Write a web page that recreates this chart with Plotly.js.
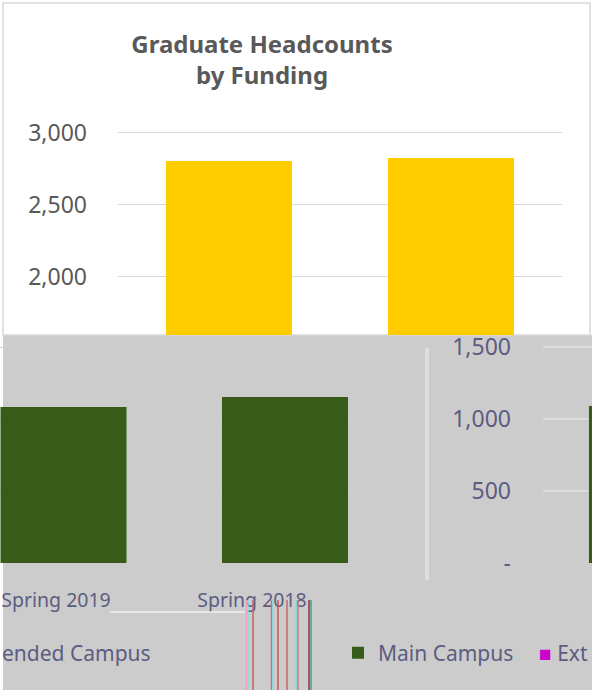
<!DOCTYPE html>
<html><head><meta charset="utf-8">
<script src="https://cdn.plot.ly/plotly-3.0.1.min.js"></script>
<style>html,body{margin:0;padding:0;background:#fff}#chart{width:592px;height:692px}</style>
</head><body><div id="chart"></div><script>
// ---- data ----
const categories = ["Spring 2019", "Spring 2018"];
const totalHeadcount = [2806, 2826];
const mainCampus = [1083, 1153];
const nextCategory = ["Spring 2017"];
const mainCampusNext = [1090];
const extendedCampusNext = [1720];
const topTickVals = [2000, 2500, 3000];
const topTickText = ["2,000", "2,500", "3,000"];
const bottomTickVals = [0, 500, 1000, 1500];
const bottomTickText = ["-", "500", "1,000", "1,500"];

// ---- helpers (pixel -> paper) ----
const W = 592, H = 692;
const px = v => v / W;
const py = v => 1 - v / H;

const grey = "#595959";
const blueGrey = "#5c5c82";
const F = "Noto Sans, Open Sans, sans-serif";

const traces = [
  { type: "bar", x: categories, y: totalHeadcount, xaxis: "x", yaxis: "y",
    marker: { color: "#FFCC00" }, width: 0.5676, showlegend: false, name: "Total", hoverinfo: "skip" },
  { type: "bar", x: categories, y: mainCampus, xaxis: "x2", yaxis: "y3",
    marker: { color: "#385B19" }, width: 0.569, name: "Main Campus" },
  { type: "scatter", mode: "none", x: categories, y: mainCampus, xaxis: "x4", yaxis: "y3",
    showlegend: false, hoverinfo: "skip", name: "labels" },
  { type: "bar", x: nextCategory, y: mainCampusNext, xaxis: "x3", yaxis: "y2",
    marker: { color: "#385B19" }, width: 0.5676, showlegend: false, name: "Main Campus" },
  { type: "bar", x: nextCategory, y: extendedCampusNext, xaxis: "x3", yaxis: "y2",
    marker: { color: "#CC00CC" }, width: 0.5676, offset: 0.4, showlegend: false, name: "Extended Campus" }
];

const stripes = [
  [246.5, "#f0a0b8"], [248, "#7fe0e0"], [253, "#c86060"], [271.5, "#d07070"], [273, "#80e0e0"],
  [278, "#c05858"], [287, "#c86a6a"], [296.5, "#80d8d8"], [298, "#d07a7a"], [309, "#a03030"], [311, "#40a0a0"]
];

const shapes = [
  { type: "rect", xref: "paper", yref: "paper", x0: px(3), x1: px(592), y0: py(690), y1: py(335),
    fillcolor: "#cccccc", line: { width: 0 }, layer: "below" },
  { type: "rect", xref: "paper", yref: "paper", x0: px(3), x1: px(590), y0: py(335), y1: py(3),
    fillcolor: "rgba(0,0,0,0)", line: { color: "#d9d9d9", width: 1.5 }, layer: "below" },
  { type: "line", xref: "paper", yref: "paper", x0: px(427), x1: px(427), y0: py(348), y1: py(580),
    line: { color: "#dedede", width: 4 }, layer: "below" },
  { type: "line", xref: "paper", yref: "paper", x0: px(110), x1: px(245), y0: py(612), y1: py(612),
    line: { color: "#f2f2f2", width: 1.5 }, layer: "above" }
].concat(stripes.map(s => ({ type: "line", xref: "paper", yref: "paper",
  x0: px(s[0]), x1: px(s[0]), y0: py(600), y1: py(690), line: { color: s[1], width: 1.5 }, layer: "above" })));

const layout = {
  width: W, height: H, autosize: false,
  margin: { l: 0, r: 0, t: 0, b: 0, pad: 0 },
  paper_bgcolor: "#ffffff", plot_bgcolor: "rgba(0,0,0,0)",
  barmode: "overlay",
  font: { family: F, color: grey },
  title: { text: "Graduate Headcounts<br>by Funding", x: px(262), xanchor: "center", xref: "paper",
    y: py(53), yanchor: "top", yref: "paper",
    font: { family: F, size: 24, color: grey, weight: "bold" } },
  xaxis: { domain: [px(118), px(562)], anchor: "y", range: [-0.5, 1.5], type: "category",
    showticklabels: false, showgrid: false, zeroline: false, showline: false, ticks: "" },
  yaxis: { domain: [py(335), py(120)], anchor: "x", range: [1597, 3090],
    tickvals: topTickVals, ticktext: topTickText, tickfont: { size: 23, color: grey, family: F },
    ticklabelstandoff: 30, showgrid: true, gridcolor: "#d9d9d9", gridwidth: 1,
    zeroline: false, showline: false, ticks: "" },
  xaxis2: { domain: [0, px(420)], anchor: "y3", type: "category", range: [-0.2867, 1.6095],
    showticklabels: false, showgrid: false, zeroline: false, showline: false, ticks: "" },
  xaxis4: { domain: [0, px(420)], anchor: "y3", overlaying: "x2", type: "category",
    range: [-56 / 196, (420 - 56) / 196],
    tickfont: { size: 19.5, color: blueGrey, family: F }, ticklabelstandoff: 23,
    showgrid: false, zeroline: false, showline: false, ticks: "" },
  xaxis3: { domain: [px(543), 1], anchor: "y2", type: "category", range: [-0.491, -0.270],
    showticklabels: false, showgrid: false, zeroline: false, showline: false, ticks: "" },
  yaxis2: { domain: [py(563), py(340)], anchor: "x3", range: [0, 1548.6],
    tickvals: bottomTickVals, ticktext: bottomTickText, tickfont: { size: 23, color: blueGrey, family: F },
    ticklabelstandoff: 31, showgrid: true, gridcolor: "#dcdcdc", gridwidth: 1.5,
    zeroline: false, showline: false, ticks: "" },
  yaxis3: { domain: [py(563), py(340)], anchor: "x2", range: [0, 1548.6], matches: "y2",
    showticklabels: false, showgrid: true, gridcolor: "#cfcfcf", gridwidth: 1,
    zeroline: false, showline: false, ticks: "" },
  legend: { orientation: "h", x: px(338), xanchor: "left", y: py(653), yanchor: "middle",
    font: { size: 21, color: blueGrey, family: F }, bgcolor: "rgba(0,0,0,0)", traceorder: "normal" },
  shapes: shapes,
  annotations: [
    { text: "ended Campus", xref: "paper", yref: "paper", x: 0, xanchor: "left", y: py(653), yanchor: "middle",
      showarrow: false, font: { size: 21, color: blueGrey, family: F } },
    { text: "<span style=\"color:#CC00CC\">■</span> Ext", xref: "paper", yref: "paper", x: px(537), xanchor: "left",
      y: py(653), yanchor: "middle", showarrow: false, font: { size: 21, color: blueGrey, family: F } }
  ]
};

Plotly.newPlot("chart", traces, layout, { displayModeBar: false, staticPlot: true });
</script></body></html>
